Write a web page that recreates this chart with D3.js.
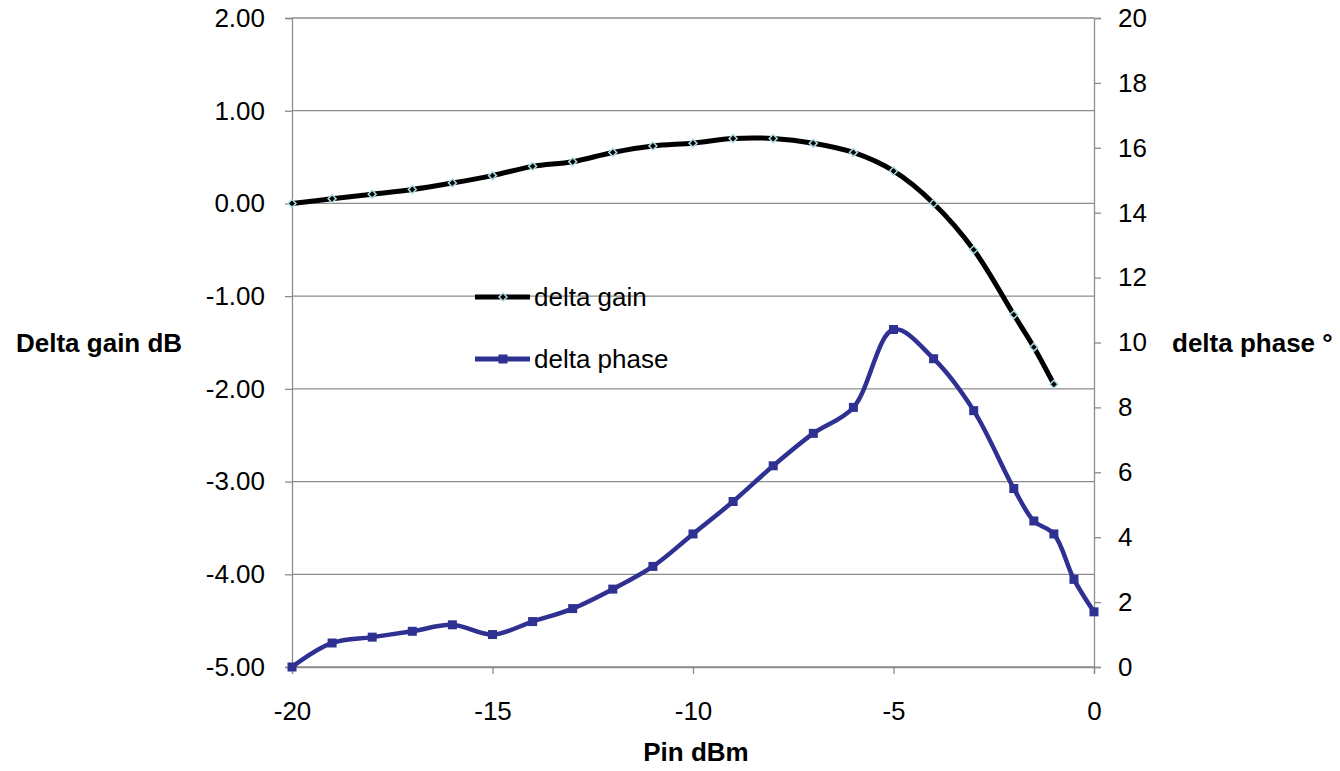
<!DOCTYPE html>
<html lang="en">
<head>
<meta charset="UTF-8">
<title>Delta gain / delta phase</title>
<script src="https://d3js.org/d3.v7.min.js"></script>
<style>
  body { margin: 0; background: #fff; }
  text { font-family: "Liberation Sans", Arial, sans-serif; }
</style>
</head>
<body>
<div id="content"></div>
<script>
// data
const gainPin = [-20, -19, -18, -17, -16, -15, -14, -13, -12, -11, -10, -9, -8, -7, -6, -5, -4, -3, -2, -1.5, -1];
const gainDb = [0.00, 0.05, 0.10, 0.15, 0.22, 0.30, 0.40, 0.45, 0.55, 0.62, 0.65, 0.70, 0.70, 0.65, 0.55, 0.35, 0.00, -0.50, -1.20, -1.55, -1.95];

const phasePin = [-20, -19, -18, -17, -16, -15, -14, -13, -12, -11, -10, -9, -8, -7, -6, -5, -4, -3, -2, -1.5, -1, -0.5, 0];
const phaseDeg = [0, 0.74, 0.92, 1.1, 1.3, 1.0, 1.4, 1.8, 2.4, 3.1, 4.1, 5.1, 6.2, 7.2, 8.0, 10.4, 9.5, 7.9, 5.5, 4.5, 4.1, 2.7, 1.7];

const leftTicks = [2, 1, 0, -1, -2, -3, -4, -5];
const rightTicks = [0, 2, 4, 6, 8, 10, 12, 14, 16, 18, 20];
const xTicks = [-20, -15, -10, -5, 0];

const W = 1340, H = 771;
const margin = { top: 18, right: 246, bottom: 104, left: 292 };
const width = W - margin.left - margin.right,
      height = H - margin.top - margin.bottom;

const svg = d3.select("#content").append("svg")
    .attr("width", W).attr("height", H);

const g = svg.append("g")
    .attr("transform", "translate(" + margin.left + "," + margin.top + ")");

const x = d3.scaleLinear().domain([-20, 0]).range([0, width]);
const yL = d3.scaleLinear().domain([-5, 2]).range([height, 0]);
const yR = d3.scaleLinear().domain([0, 20]).range([height, 0]);

const grey = "#8c8c8c";
const fs = 26;

// gridlines
g.selectAll(".grid").data(leftTicks).enter().append("line")
    .attr("x1", 0).attr("x2", width)
    .attr("y1", d => yL(d)).attr("y2", d => yL(d))
    .attr("stroke", grey).attr("stroke-width", 1.3);

// axes
const axL = g.append("g")
    .call(d3.axisLeft(yL).tickValues(leftTicks).tickSize(7).tickPadding(20));
const axR = g.append("g").attr("transform", "translate(" + width + ",0)")
    .call(d3.axisRight(yR).tickValues(rightTicks).tickSize(7).tickPadding(17));
const axB = g.append("g").attr("transform", "translate(0," + height + ")")
    .call(d3.axisBottom(x).tickValues(xTicks).tickSize(7).tickPadding(28));

[axL, axR, axB].forEach(a => {
  a.attr("font-size", fs).attr("font-family", "'Liberation Sans', Arial, sans-serif");
  a.select(".domain").attr("stroke", grey).attr("stroke-width", 1.3);
  a.selectAll(".tick line").attr("stroke", grey).attr("stroke-width", 1.3);
  a.selectAll(".tick text").attr("fill", "#000");
});
axL.selectAll(".tick text").text(d => d3.format(".2f")(d).replace("\u2212", "-"));
axB.selectAll(".tick text").text(d => String(d));

// lines
const curve = d3.curveCatmullRom.alpha(0.5);
const blue = "#2e3192";

const gainData = gainPin.map((p, i) => [p, gainDb[i]]);
const phaseData = phasePin.map((p, i) => [p, phaseDeg[i]]);

g.append("path").datum(phaseData)
    .attr("d", d3.line().x(d => x(d[0])).y(d => yR(d[1])).curve(curve))
    .attr("fill", "none").attr("stroke", blue).attr("stroke-width", 4.5);
g.selectAll(".pm").data(phaseData).enter().append("rect")
    .attr("x", d => x(d[0]) - 4.5).attr("y", d => yR(d[1]) - 4.5)
    .attr("width", 9).attr("height", 9).attr("fill", blue);

g.append("path").datum(gainData)
    .attr("d", d3.line().x(d => x(d[0])).y(d => yL(d[1])).curve(curve))
    .attr("fill", "none").attr("stroke", "#000").attr("stroke-width", 5);

const diamond = d3.symbol().type(d3.symbolDiamond2).size(40);
g.selectAll(".gm").data(gainData).enter().append("path")
    .attr("transform", d => "translate(" + x(d[0]) + "," + yL(d[1]) + ")")
    .attr("d", diamond).attr("fill", "#000").attr("stroke", "#a8dce0").attr("stroke-width", 1.5);

// legend
const legend = svg.append("g");
const legItems = [
  { label: "delta gain", color: "#000", y: 297, marker: "diamond" },
  { label: "delta phase", color: blue, y: 359, marker: "square" }
];
legItems.forEach(it => {
  legend.append("line").attr("x1", 475).attr("x2", 530)
      .attr("y1", it.y).attr("y2", it.y)
      .attr("stroke", it.color).attr("stroke-width", 5);
  if (it.marker === "diamond") {
    legend.append("path").attr("transform", "translate(503," + it.y + ")")
        .attr("d", diamond).attr("fill", "#000").attr("stroke", "#a8dce0").attr("stroke-width", 1.5);
  } else {
    legend.append("rect").attr("x", 503 - 4.5).attr("y", it.y - 4.5)
        .attr("width", 9).attr("height", 9).attr("fill", blue);
  }
  legend.append("text").attr("x", 534).attr("y", it.y).attr("dy", "0.35em")
      .attr("font-size", fs).text(it.label);
});

// axis titles
svg.append("text").attr("x", 16).attr("y", 343).attr("dy", "0.35em")
    .attr("font-size", fs).attr("font-weight", "bold").text("Delta gain dB");
svg.append("text").attr("x", 1172).attr("y", 343).attr("dy", "0.35em")
    .attr("font-size", fs).attr("font-weight", "bold").text("delta phase \u00b0");
svg.append("text").attr("x", 696).attr("y", 752).attr("dy", "0.35em")
    .attr("text-anchor", "middle")
    .attr("font-size", fs).attr("font-weight", "bold").text("Pin dBm");
</script>
</body>
</html>
